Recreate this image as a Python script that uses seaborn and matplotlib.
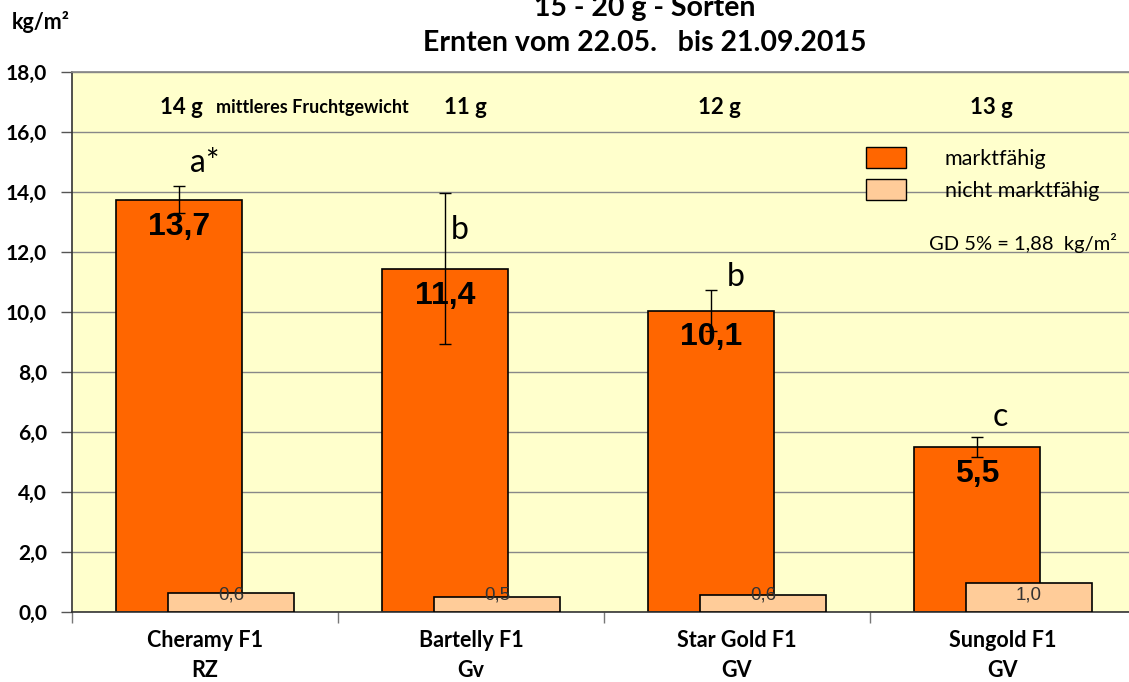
import numpy as np
import pandas as pd
import matplotlib
matplotlib.use("Agg")
import matplotlib.pyplot as plt
import seaborn as sns
from matplotlib.patches import Patch
from matplotlib.ticker import FuncFormatter, FixedLocator

# ---- data ----
sorten = ["Cheramy F1\nRZ", "Bartelly F1\nGv", "Star Gold F1\nGV", "Sungold F1\nGV"]
marktfaehig = [13.75, 11.45, 10.05, 5.5]
marktfaehig_labels = ["13,7", "11,4", "10,1", "5,5"]
fehler = [0.45, 2.52, 0.68, 0.34]
nicht_marktfaehig = [0.62, 0.5, 0.58, 0.98]
nicht_labels = ["0,6", "0,5", "0,6", "1,0"]
gruppen = ["a*", "b", "b", "c"]
fruchtgewicht = ["14 g", "11 g", "12 g", "13 g"]

# layout helpers (not data)
letter_y = [14.97, 12.73, 11.18, 6.51]
letter_dx = [0.04, 0.02, 0.06, 0.06]
fg_dx = [-0.09, -0.02, -0.065, -0.045]

ORANGE = "#FF6600"
LIGHT = "#FFCC99"
BG = "#FFFFCC"
FONT = "Lato"

sns.set_theme(style="white")
plt.rcParams["font.family"] = [FONT, "DejaVu Sans"]
plt.rcParams["text.color"] = "black"
plt.rcParams["xtick.color"] = "black"
plt.rcParams["ytick.color"] = "black"

fig = plt.figure(figsize=(11.29, 6.82), dpi=100)
ax = fig.add_axes([72 / 1129, 1 - 612 / 682, 1064 / 1129, 540 / 682])
ax.set_facecolor(BG)

n = len(sorten)
idx = np.arange(n)
off = 0.098
bw = 0.476

df_m = pd.DataFrame({"x": idx - off, "y": marktfaehig})
df_n = pd.DataFrame({"x": idx + off, "y": nicht_marktfaehig})

sns.barplot(data=df_m, x="x", y="y", native_scale=True, width=bw, color=ORANGE,
            saturation=1, edgecolor="black", linewidth=1.2, errorbar=None, ax=ax, zorder=2)
ax.errorbar(idx - off, marktfaehig, yerr=fehler, fmt="none", ecolor="black",
            elinewidth=1, capsize=4, capthick=1, zorder=3)
sns.barplot(data=df_n, x="x", y="y", native_scale=True, width=bw, color=LIGHT,
            saturation=1, edgecolor="black", linewidth=1.2, errorbar=None, ax=ax, zorder=4)

ax.set_xlim(-0.5, n - 0.5)
ax.set_ylim(0, 18)
ax.yaxis.set_major_locator(FixedLocator(np.arange(0, 18.1, 2)))
ax.yaxis.set_major_formatter(FuncFormatter(lambda v, p: f"{v:.1f}".replace(".", ",")))
ax.grid(axis="y", color="#888888", linewidth=1, zorder=0)
ax.set_axisbelow(True)
ax.tick_params(axis="y", which="major", direction="out", length=8, width=1, color="#555555",
               left=True, labelsize=15, pad=10, labelcolor="black")
for lab in ax.get_yticklabels():
    lab.set_fontweight("bold")

ax.set_xticks(idx)
ax.set_xticklabels(sorten, fontsize=15.5, fontweight="bold", linespacing=1.55, color="black")
ax.tick_params(axis="x", which="major", length=0, pad=13)
ax.set_xticks(np.arange(-0.5, n, 1.0), minor=True)
ax.tick_params(axis="x", which="minor", direction="out", length=8, width=1, color="#777777",
               bottom=True)
ax.set_xlabel("")
ax.set_ylabel("")

for s in ["left", "bottom"]:
    ax.spines[s].set_color("#333333")
    ax.spines[s].set_linewidth(1.2)
ax.spines["top"].set_color("#888888")
ax.spines["right"].set_visible(False)

# value labels
for i in range(n):
    ax.text(i - off, marktfaehig[i] - 0.9, marktfaehig_labels[i], ha="center", va="center",
            fontsize=23, fontweight="bold", family=["Liberation Sans"], color="black", zorder=6)
    ax.text(i + off, 0.57, nicht_labels[i], ha="center", va="center",
            fontsize=13.5, color="#333333", family=["Liberation Sans"], zorder=6)
    ax.text(i - off + letter_dx[i], letter_y[i], gruppen[i], ha="left", va="center",
            fontsize=23, color="black", zorder=6)
    ax.text(i + fg_dx[i], 16.8, fruchtgewicht[i], ha="center", va="center",
            fontsize=16, fontweight="bold", color="black", zorder=6)
ax.text(0.04, 16.8, "mittleres Fruchtgewicht", ha="left", va="center",
        fontsize=13, fontweight="bold", color="black", zorder=6)

ax.text((1117 - 72) / 266 - 0.5, 12.3, "GD 5% = 1,88  kg/m²",
        ha="right", va="center", fontsize=14.5, color="black", zorder=6)

handles = [Patch(facecolor=ORANGE, edgecolor="black", linewidth=1, label="marktfähig"),
           Patch(facecolor=LIGHT, edgecolor="black", linewidth=1, label="nicht marktfähig")]
fig.legend(handles=handles, loc="upper left", bbox_to_anchor=(866 / 1129, 1 - 147 / 682),
           frameon=False, fontsize=15.5, handlelength=1.85, handleheight=1.15,
           handletextpad=1.8, labelspacing=0.45, borderpad=0, borderaxespad=0)

fig.text(645 / 1129, 1 - 8 / 682, "15 - 20 g - Sorten", ha="center", va="center",
         fontsize=20.5, fontweight="bold")
fig.text(645 / 1129, 1 - 43 / 682, "Ernten vom 22.05.   bis 21.09.2015", ha="center",
         va="center", fontsize=20.5, fontweight="bold")
fig.text(12 / 1129, 1 - 22 / 682, "kg/m²", ha="left", va="center", fontsize=15.5,
         fontweight="bold")

fig.savefig("out.png", dpi=100)
